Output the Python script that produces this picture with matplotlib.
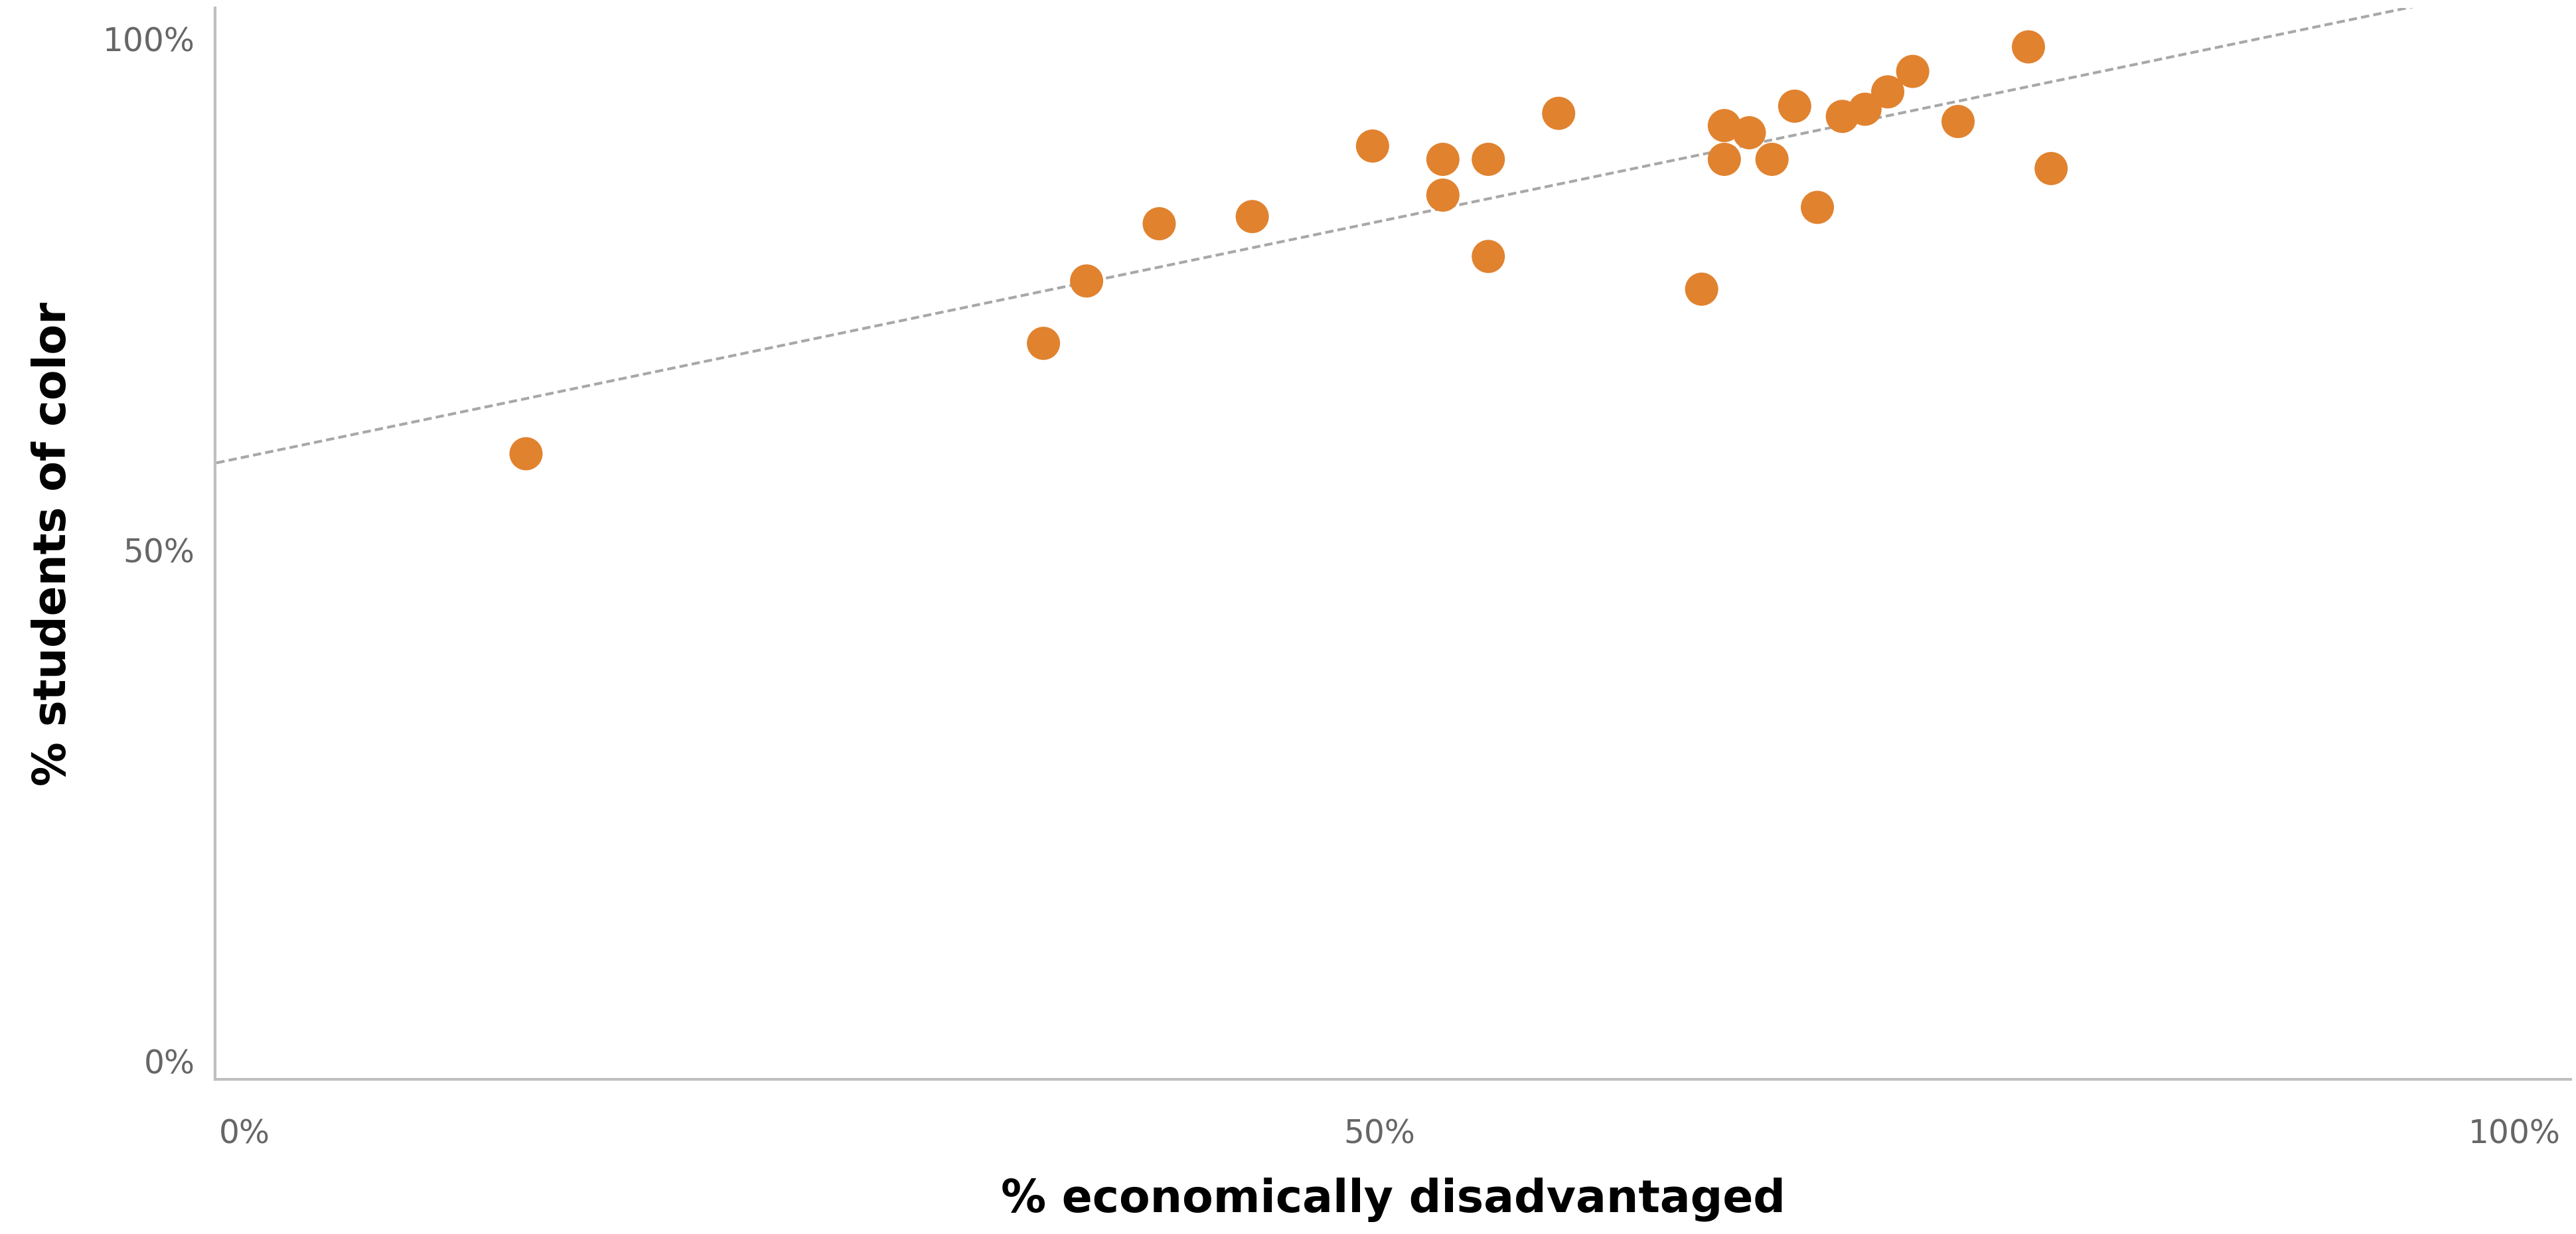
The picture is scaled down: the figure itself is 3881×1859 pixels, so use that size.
import numpy as np
import matplotlib.pyplot as plt
from matplotlib.ticker import PercentFormatter

# share of economically disadvantaged students vs share of students of color
econ_disadv = [0.124, 0.352, 0.371, 0.403, 0.444, 0.497, 0.528, 0.528, 0.548, 0.548,
               0.579, 0.642, 0.652, 0.652, 0.663, 0.673, 0.683, 0.693, 0.704, 0.714,
               0.724, 0.735, 0.755, 0.786, 0.796]
students_color = [0.594, 0.702, 0.763, 0.819, 0.826, 0.895, 0.882, 0.847, 0.882, 0.787,
                  0.927, 0.755, 0.915, 0.882, 0.908, 0.882, 0.934, 0.835, 0.924, 0.931,
                  0.948, 0.968, 0.919, 0.992, 0.873]
x_ticks = [0, 0.5, 1.0]
y_ticks = [0, 0.5, 1.0]

fig = plt.figure(figsize=(38.81, 18.59), dpi=100)
ax = fig.add_axes([0.0835, 0.1253, 0.9145, 0.8682])

ax.scatter(econ_disadv, students_color, s=36**2, color='#E1822F', edgecolors='none', zorder=3)

# linear trendline
slope, intercept = np.polyfit(econ_disadv, students_color, 1)
tx = np.array([-0.05, 1.1])
ax.plot(tx, slope * tx + intercept, color='#A8A8A8', linestyle=(0, (3, 1.5)), linewidth=3, zorder=2)

ax.set_xlim(-0.013, 1.025)
ax.set_ylim(-0.018, 1.03)
ax.set_xticks(x_ticks)
ax.set_yticks(y_ticks)
ax.xaxis.set_major_formatter(PercentFormatter(1.0, decimals=0))
ax.yaxis.set_major_formatter(PercentFormatter(1.0, decimals=0))
ax.tick_params(axis='both', length=0, labelsize=35, labelcolor='#666666')
ax.tick_params(axis='x', pad=42)
ax.tick_params(axis='y', pad=22)

for side in ['top', 'right']:
    ax.spines[side].set_visible(False)
for side in ['left', 'bottom']:
    ax.spines[side].set_color('#BFBFBF')
    ax.spines[side].set_linewidth(3)

ax.set_xlabel('% economically disadvantaged', fontsize=49, fontweight='bold', color='black', labelpad=30)
ax.set_ylabel('% students of color', fontsize=48, fontweight='bold', color='black', labelpad=30)

fig.savefig('out.png', dpi=100, facecolor='white')
